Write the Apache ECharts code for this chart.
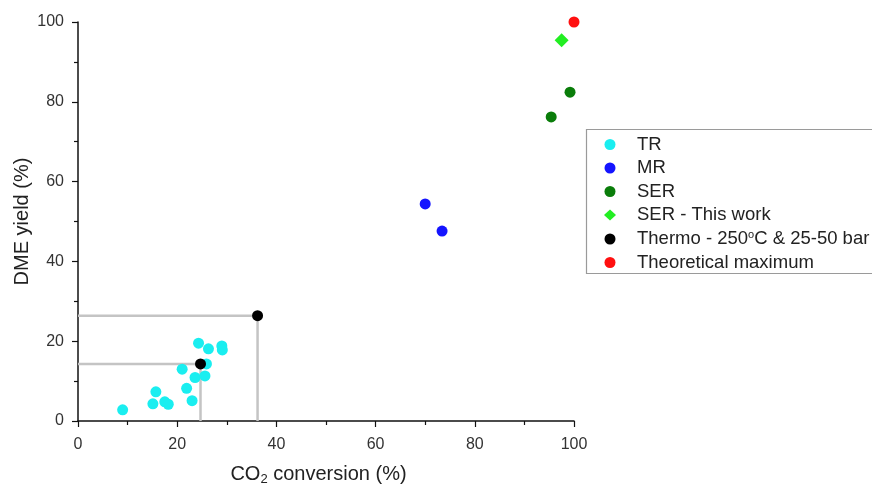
<!DOCTYPE html>
<html>
<head>
<meta charset="utf-8">
<script src="https://cdn.jsdelivr.net/npm/echarts@6/dist/echarts.min.js"></script>
<style>
  html, body { margin: 0; padding: 0; background: #fff; }
  #chart { width: 872px; height: 484px; }
</style>
</head>
<body>
<div id="chart"></div>
<script>
// CO2 conversion (%) , DME yield (%)
const trData = [
  [9.0, 2.8], [15.7, 7.3], [15.1, 4.3], [17.5, 4.8], [18.2, 4.2],
  [21.0, 13.0], [21.9, 8.2], [23.0, 5.1], [23.6, 10.9], [24.3, 19.5],
  [25.6, 11.3], [25.9, 14.3], [26.3, 18.1], [29.0, 18.8], [29.1, 17.8]
];
const mrData = [[70.0, 54.4], [73.4, 47.6]];
const serData = [[95.4, 76.2], [99.2, 82.4]];
const serThisWork = [[97.5, 95.4]];
const thermoData = [[24.7, 14.3], [36.2, 26.4]];
const theoMax = [[100, 100]];

const seriesNames = ['TR', 'MR', 'SER', 'SER - This work', 'Thermo - 250oC & 25-50 bar', 'Theoretical maximum'];
const xTicks = [0, 20, 40, 60, 80, 100];
const yTicks = [0, 20, 40, 60, 80, 100];

// gray guide lines from each thermo point to both axes
const guideLines = thermoData.map(p => [[0, p[1]], [p[0], p[1]], [p[0], 0]]);

const FONT = 'Liberation Sans, Arial, sans-serif';
const chart = echarts.init(document.getElementById('chart'));

const axisCommon = {
  min: 0,
  max: 100,
  interval: 20,
  axisLine: { show: true, onZero: false, lineStyle: { color: '#111', width: 1.5 } },
  axisTick: { show: true, inside: false, length: 6, lineStyle: { color: '#111', width: 1.2 } },
  minorTick: { show: true, splitNumber: 2, length: 4, lineStyle: { color: '#111', width: 1.2 } },
  splitLine: { show: false },
  axisLabel: { color: '#333', fontSize: 16, fontFamily: FONT }
};

const guideSeries = guideLines.map(d => ({
  type: 'line',
  data: d,
  symbol: 'none',
  silent: true,
  z: 1,
  lineStyle: { color: '#c4c4c4', width: 2.5 }
}));

function scatter(name, data, color, symbol, size) {
  return {
    name: name,
    type: 'scatter',
    data: data,
    symbol: symbol || 'circle',
    symbolSize: size || 11,
    z: 3,
    itemStyle: { color: color, opacity: 1 }
  };
}

chart.setOption({
  animation: false,
  textStyle: { fontFamily: FONT },
  grid: { left: 78, right: 298, top: 22, bottom: 63, outerBoundsMode: 'none', containLabel: false },
  // legend frame, runs off the right edge like the original
  graphic: [{
    type: 'rect',
    z: 0,
    silent: true,
    shape: { x: 586.5, y: 129.5, width: 330, height: 144 },
    style: { fill: '#fff', stroke: '#9a9a9a', lineWidth: 1.2 }
  }],
  xAxis: Object.assign({}, axisCommon, {
    type: 'value',
    name: '{a|CO}{sub|2}{a| conversion (%)}',
    nameLocation: 'middle',
    nameGap: 42,
    nameTextStyle: {
      padding: [0, 15, 0, 0],
      rich: {
        a: { fontSize: 20, color: '#222', fontFamily: FONT },
        sub: { fontSize: 13, color: '#222', verticalAlign: 'bottom', padding: [10, 0, 0, 0], fontFamily: FONT }
      }
    },
    axisLabel: Object.assign({}, axisCommon.axisLabel, {
      margin: 16,
      formatter: v => (xTicks.indexOf(v) >= 0 ? String(v) : '')
    })
  }),
  yAxis: Object.assign({}, axisCommon, {
    type: 'value',
    name: 'DME yield (%)',
    nameLocation: 'middle',
    nameGap: 46,
    nameMoveOverlap: false,
    nameTextStyle: { fontSize: 20, color: '#222' },
    axisLabel: Object.assign({}, axisCommon.axisLabel, {
      margin: 14,
      formatter: v => (yTicks.indexOf(v) >= 0 ? String(v) : '')
    })
  }),
  legend: {
    data: seriesNames,
    orient: 'vertical',
    left: 586,
    top: 129,
    itemGap: 4.5,
    itemWidth: 12,
    itemHeight: 11,
    padding: [6, 0, 6, 18],
    borderWidth: 0,
    formatter: function (name) {
      if (name.indexOf('Thermo') === 0) {
        return '{t|Thermo - 250}{sup|o}{t|C & 25-50 bar}';
      }
      return '{t|' + name + '}';
    },
    textStyle: {
      padding: [0, 0, 0, 16],
      rich: {
        t: { fontSize: 18.5, color: '#222', fontFamily: FONT },
        sup: { fontSize: 11, color: '#222', verticalAlign: 'top', padding: [0, 0, 9, 0], fontFamily: FONT }
      }
    }
  },
  series: guideSeries.concat([
    scatter('TR', trData, '#1aeef0'),
    scatter('MR', mrData, '#1414ff'),
    scatter('SER', serData, '#0a7d0a'),
    scatter('SER - This work', serThisWork, '#22ee22', 'diamond', 14),
    scatter('Thermo - 250oC & 25-50 bar', thermoData, '#000000'),
    scatter('Theoretical maximum', theoMax, '#ff1010')
  ])
});
</script>
</body>
</html>
